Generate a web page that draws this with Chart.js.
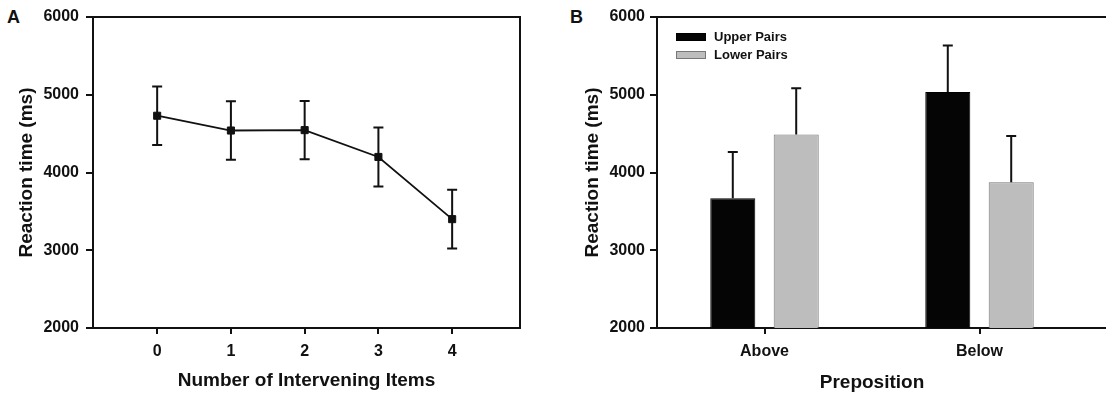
<!DOCTYPE html>
<html>
<head>
<meta charset="utf-8">
<script src="https://cdn.jsdelivr.net/npm/chart.js@4"></script>
<style>
  html, body { margin: 0; padding: 0; background: #fff; width: 1106px; height: 394px; overflow: hidden; }
  .panel { position: absolute; top: 0; }
  .tag { position: absolute; top: 7px; font: bold 18px Arial, "Liberation Sans", sans-serif; color: #111; }
</style>
</head>
<body>
<div class="tag" style="left:7px">A</div>
<div class="tag" style="left:570px">B</div>
<canvas id="chartA" class="panel" style="left:0" width="540" height="394"></canvas>
<canvas id="chartB" class="panel" style="left:560px" width="546" height="394"></canvas>
<script>
// data
const itemCounts = [0, 1, 2, 3, 4];
const rtByItems = [4730, 4540, 4545, 4200, 3400];
const errByItems = [375, 375, 375, 380, 378];

const prepositions = ["Above", "Below"];
const upperPairs = [3670, 5035];
const lowerPairs = [4490, 3875];
const upperErr = [595, 597];
const lowerErr = [595, 595];

const yTicks = [2000, 3000, 4000, 5000, 6000];

const ink = "#111";
const fontFam = 'Arial, "Liberation Sans", sans-serif';

// error bars (both ways for the line, upward only for the bars)
const errorBars = {
  id: "errorBars",
  afterDatasetsDraw(chart) {
    const ctx = chart.ctx;
    const yScale = chart.scales.y;
    ctx.save();
    ctx.strokeStyle = ink;
    ctx.lineWidth = 2;
    chart.data.datasets.forEach((ds, di) => {
      if (!ds.errors) return;
      const meta = chart.getDatasetMeta(di);
      meta.data.forEach((el, i) => {
        const v = meta.controller.getParsed(i).y;
        const err = ds.errors[i];
        const top = yScale.getPixelForValue(v + err);
        const bottom = ds.errorBoth ? yScale.getPixelForValue(v - err) : el.y;
        ctx.beginPath();
        ctx.moveTo(el.x, top);
        ctx.lineTo(el.x, bottom);
        ctx.moveTo(el.x - 5, top);
        ctx.lineTo(el.x + 5, top);
        if (ds.errorBoth) {
          ctx.moveTo(el.x - 5, bottom);
          ctx.lineTo(el.x + 5, bottom);
        }
        ctx.stroke();
      });
    });
    ctx.restore();
  }
};

// top/right edges of the box
const frame = {
  id: "frame",
  afterDraw(chart, args, opts) {
    const ctx = chart.ctx;
    const a = chart.chartArea;
    const right = opts.open ? chart.width : a.right;
    ctx.save();
    ctx.strokeStyle = ink;
    ctx.lineWidth = 2;
    ctx.beginPath();
    ctx.moveTo(a.left - 1, a.top);
    ctx.lineTo(right, a.top);
    if (opts.open) {
      ctx.moveTo(a.right, a.bottom);
      ctx.lineTo(right, a.bottom);
    } else {
      ctx.moveTo(a.right, a.top - 1);
      ctx.lineTo(a.right, a.bottom + 1);
    }
    ctx.stroke();
    ctx.restore();
  }
};

// legend inside the plot
const boxLegend = {
  id: "boxLegend",
  afterDraw(chart, args, opts) {
    if (!opts.show) return;
    const ctx = chart.ctx;
    const a = chart.chartArea;
    ctx.save();
    ctx.font = "bold 13px " + fontFam;
    ctx.textBaseline = "middle";
    chart.data.datasets.forEach((ds, i) => {
      const x = a.left + opts.x;
      const y = a.top + opts.y + i * opts.gap;
      ctx.fillStyle = ds.backgroundColor;
      ctx.fillRect(x, y - 4, 30, 8);
      ctx.strokeStyle = ds.borderColor;
      ctx.lineWidth = 1;
      ctx.strokeRect(x + 0.5, y - 3.5, 29, 7);
      ctx.fillStyle = ink;
      ctx.fillText(ds.label, x + 38, y);
    });
    ctx.restore();
  }
};

function yAxis(width, tickPad, titlePad) {
  return {
    min: 2000,
    max: 6000,
    afterBuildTicks: (s) => { s.ticks = yTicks.map((v) => ({ value: v })); },
    afterFit: (s) => { s.width = width; },
    grid: { drawOnChartArea: false, drawTicks: true, tickLength: 7, lineWidth: 2, color: ink },
    border: { display: true, color: ink, width: 2 },
    ticks: {
      color: ink,
      padding: tickPad,
      font: { family: fontFam, size: 16, weight: "bold" },
      callback: (v) => String(v)
    },
    title: {
      display: true,
      text: "Reaction time (ms)",
      color: ink,
      font: { family: fontFam, size: 19, weight: "bold" },
      padding: { top: titlePad, bottom: 0 }
    }
  };
}

// A: line with error bars
new Chart(document.getElementById("chartA"), {
  type: "line",
  data: {
    datasets: [{
      data: itemCounts.map((x, i) => ({ x: x, y: rtByItems[i] })),
      errors: errByItems,
      errorBoth: true,
      borderColor: ink,
      borderWidth: 1.8,
      tension: 0,
      pointStyle: "rect",
      pointRadius: 5,
      pointBackgroundColor: ink,
      pointBorderColor: ink,
      pointBorderWidth: 1
    }]
  },
  options: {
    responsive: false,
    animation: false,
    devicePixelRatio: 1,
    layout: { padding: { top: 17, right: 20, left: 0, bottom: 0 } },
    plugins: { legend: { display: false }, tooltip: { enabled: false }, frame: { open: false }, boxLegend: { show: false } },
    scales: {
      x: {
        type: "linear",
        min: -0.87,
        max: 4.92,
        afterBuildTicks: (s) => { s.ticks = itemCounts.map((v) => ({ value: v })); },
        afterFit: (s) => { s.height = 66; },
        grid: { drawOnChartArea: false, drawTicks: true, tickLength: 6, lineWidth: 2, color: ink },
        border: { display: true, color: ink, width: 2 },
        ticks: { color: ink, padding: 8, font: { family: fontFam, size: 16, weight: "bold" } },
        title: {
          display: true,
          text: "Number of Intervening Items",
          color: ink,
          font: { family: fontFam, size: 19, weight: "bold" },
          padding: { top: 0, bottom: 2 }
        }
      },
      y: yAxis(93, 7, 15)
    }
  },
  plugins: [errorBars, frame, boxLegend]
});

// B: grouped bars with error bars
new Chart(document.getElementById("chartB"), {
  type: "bar",
  data: {
    labels: prepositions,
    datasets: [
      { label: "Upper Pairs", data: upperPairs, errors: upperErr, backgroundColor: "#050505", borderColor: "#000", borderWidth: 1 },
      { label: "Lower Pairs", data: lowerPairs, errors: lowerErr, backgroundColor: "#bdbdbd", borderColor: "#777", borderWidth: 1 }
    ]
  },
  options: {
    responsive: false,
    animation: false,
    devicePixelRatio: 1,
    categoryPercentage: 0.59,
    barPercentage: 0.71,
    layout: { padding: { top: 17, right: 19, left: 0, bottom: 0 } },
    plugins: {
      legend: { display: false },
      tooltip: { enabled: false },
      frame: { open: true },
      boxLegend: { show: true, x: 19, y: 20, gap: 18 }
    },
    scales: {
      x: {
        offset: true,
        afterFit: (s) => { s.height = 66; },
        grid: { offset: false, drawOnChartArea: false, drawTicks: true, tickLength: 6, lineWidth: 2, color: ink },
        border: { display: true, color: ink, width: 2 },
        ticks: { color: ink, padding: 8, font: { family: fontFam, size: 16, weight: "bold" } },
        title: {
          display: true,
          text: "Preposition",
          color: ink,
          font: { family: fontFam, size: 19, weight: "bold" },
          padding: { top: 0, bottom: 0 }
        }
      },
      y: yAxis(97, 5, 21)
    }
  },
  plugins: [errorBars, frame, boxLegend]
});
</script>
</body>
</html>
